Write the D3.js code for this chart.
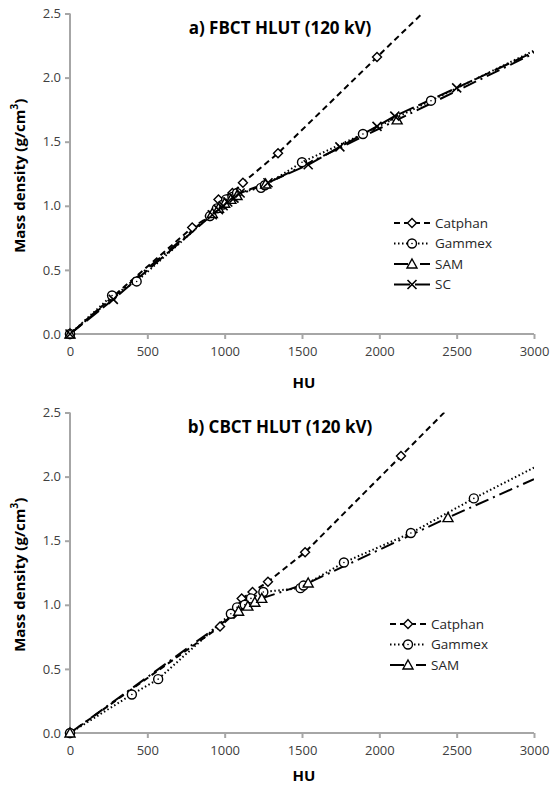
<!DOCTYPE html>
<html>
<head>
<meta charset="utf-8">
<script src="https://cdn.jsdelivr.net/npm/d3@7"></script>
<style>
  body { margin: 0; background: #fff; }
  text { font-family: "Open Sans", sans-serif; }
</style>
</head>
<body>
<svg width="550" height="787"></svg>
<script>
// [HU, mass density] pairs
const fbctCatphan = [[0,0],[790,0.83],[905,0.92],[960,1.05],[1050,1.10],[1118,1.18],[1345,1.41],[1985,2.16],[2500,2.76]];
const fbctGammex = [[0,0],[272,0.30],[431,0.41],[905,0.92],[950,0.98],[990,1.01],[1010,1.05],[1050,1.07],[1080,1.10],[1235,1.14],[1260,1.16],[1500,1.34],[1894,1.56],[2334,1.82],[3000,2.21]];
const fbctSAM = [[0,0],[920,0.94],[960,0.98],[1000,1.02],[1040,1.05],[1080,1.08],[1265,1.17],[2115,1.67],[3000,2.19]];
const fbctSC = [[0,0],[280,0.27],[920,0.93],[960,0.97],[990,1.0],[1020,1.03],[1060,1.06],[1100,1.10],[1280,1.18],[1540,1.32],[1745,1.46],[1985,1.62],[2100,1.70],[2500,1.92],[3000,2.20]];

const cbctCatphan = [[0,0],[970,0.83],[1060,0.93],[1110,1.05],[1180,1.10],[1280,1.18],[1520,1.41],[2140,2.16],[2600,2.72]];
const cbctGammex = [[0,0],[400,0.30],[570,0.42],[1040,0.93],[1080,0.98],[1130,1.0],[1170,1.05],[1250,1.10],[1490,1.13],[1510,1.15],[1771,1.33],[2204,1.56],[2611,1.83],[3000,2.07]];
const cbctSAM = [[0,0],[1090,0.95],[1150,0.99],[1195,1.02],[1240,1.05],[1540,1.17],[2444,1.68],[3000,1.98]];

const xTicks = [0, 500, 1000, 1500, 2000, 2500, 3000];
const yTicks = [0, 0.5, 1.0, 1.5, 2.0, 2.5];

const styles = {
  Catphan: { dash: "6,4", marker: "diamond" },
  Gammex: { dash: "1.5,2.5", marker: "circle" },
  SAM: { dash: "14,5,2,5", marker: "triangle" },
  SC: { dash: "16,5", marker: "cross" }
};

const svg = d3.select("svg");

function marker(g, type, x, y) {
  if (type == "diamond") {
    g.append("path").attr("d", `M${x},${y-4.5}L${x+4.5},${y}L${x},${y+4.5}L${x-4.5},${y}Z`)
      .attr("fill", "#fff").attr("stroke", "#000").attr("stroke-width", 1.4);
  } else if (type == "circle") {
    g.append("circle").attr("cx", x).attr("cy", y).attr("r", 4.5)
      .attr("fill", "#fff").attr("stroke", "#000").attr("stroke-width", 1.4);
    g.append("circle").attr("cx", x).attr("cy", y).attr("r", 0.8).attr("fill", "#000");
  } else if (type == "triangle") {
    g.append("path").attr("d", `M${x},${y-5}L${x+5},${y+4}L${x-5},${y+4}Z`)
      .attr("fill", "#fff").attr("stroke", "#000").attr("stroke-width", 1.4);
  } else {
    g.append("path").attr("d", `M${x-4.5},${y-4.5}L${x+4.5},${y+4.5}M${x-4.5},${y+4.5}L${x+4.5},${y-4.5}`)
      .attr("stroke", "#000").attr("stroke-width", 1.6);
  }
}

function panel(top, title, series, legendX, legendY, huOffset, id) {
  const left = 70, right = 534, bottom = top + 320.5;
  const x = d3.scaleLinear().domain([0, 3000]).range([left, right]);
  const y = d3.scaleLinear().domain([0, 2.5]).range([bottom, top]);

  svg.append("clipPath").attr("id", id).append("rect")
    .attr("x", left - 8).attr("y", top).attr("width", right - left + 8).attr("height", bottom - top + 8);

  const xa = svg.append("g").attr("transform", `translate(0,${bottom})`)
    .call(d3.axisBottom(x).tickValues(xTicks).tickSize(5).tickPadding(8).tickFormat(d3.format("d")));
  const ya = svg.append("g").attr("transform", `translate(${left},0)`)
    .call(d3.axisLeft(y).tickValues(yTicks).tickSize(5).tickPadding(4).tickFormat(d3.format(".1f")));
  [xa, ya].forEach(a => {
    a.selectAll("path, line").attr("stroke", "#a6a6a6").attr("stroke-width", 2);
    a.select(".domain").attr("d", a === xa ? `M${left},0H${right}` : `M0,${top}V${bottom}`);
    a.selectAll("text").attr("font-size", 13).attr("fill", "#404040")
      .attr("font-family", "Open Sans, sans-serif");
  });

  const plot = svg.append("g").attr("clip-path", `url(#${id})`);
  const line = d3.line().x(d => x(d[0])).y(d => y(d[1]));

  series.forEach(s => {
    plot.append("path").datum(s.data)
      .attr("fill", "none").attr("stroke", "#000").attr("stroke-width", 2)
      .attr("stroke-dasharray", styles[s.name].dash).attr("d", line);
  });
  series.forEach(s => {
    s.data.filter(d => d[0] < 3000).forEach(d => marker(plot, styles[s.name].marker, x(d[0]), y(d[1])));
  });

  svg.append("text").attr("x", 280).attr("y", top + 20).attr("text-anchor", "middle")
    .attr("font-size", 17).attr("font-weight", "bold").text(title);

  svg.append("text").attr("x", (left + right) / 2 + 2).attr("y", bottom + huOffset).attr("text-anchor", "middle")
    .attr("font-size", 15).attr("font-weight", "bold").text("HU");

  svg.append("text").attr("transform", `translate(25,${(top + bottom) / 2 + 2}) rotate(-90)`)
    .attr("text-anchor", "middle").attr("font-size", 15).attr("font-weight", "bold")
    .text("Mass density (g/cm").append("tspan").attr("baseline-shift", "super").attr("font-size", 10).text("3")
    .select(function() { return this.parentNode; }).append("tspan").text(")");

  series.forEach((s, i) => {
    const ly = legendY + i * 20.5;
    const lg = svg.append("g");
    lg.append("line").attr("x1", legendX).attr("x2", legendX + 36).attr("y1", ly).attr("y2", ly)
      .attr("stroke", "#000").attr("stroke-width", 2).attr("stroke-dasharray", styles[s.name].dash);
    marker(lg, styles[s.name].marker, legendX + 18, ly);
    lg.append("text").attr("x", legendX + 41).attr("y", ly + 4.5).attr("font-size", 13.5)
      .attr("fill", "#262626").text(s.name);
  });
}

panel(13.5, "a) FBCT HLUT (120 kV)", [
  { name: "Catphan", data: fbctCatphan },
  { name: "Gammex", data: fbctGammex },
  { name: "SAM", data: fbctSAM },
  { name: "SC", data: fbctSC }
], 394, 223, 54, "clipA");

panel(412.5, "b) CBCT HLUT (120 kV)", [
  { name: "Catphan", data: cbctCatphan },
  { name: "Gammex", data: cbctGammex },
  { name: "SAM", data: cbctSAM }
], 390, 624, 48, "clipB");
</script>
</body>
</html>
